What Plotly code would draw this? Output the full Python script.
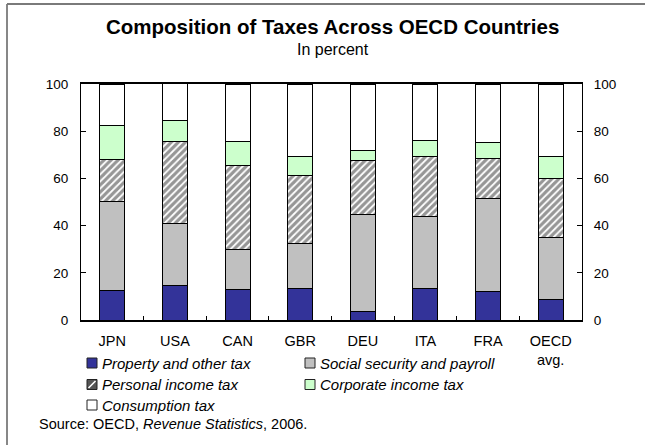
import plotly.graph_objects as go

# --- data -----------------------------------------------------------------
countries = ["JPN", "USA", "CAN", "GBR", "DEU", "ITA", "FRA", "OECD<br>avg."]
property_other = [12.4, 14.5, 12.9, 13.4, 3.8, 13.4, 11.9, 8.5]
social_security = [37.9, 26.5, 17.1, 19.1, 40.7, 30.4, 39.7, 26.5]
personal_income = [17.8, 34.8, 35.3, 28.8, 23.0, 25.6, 17.0, 25.0]
corporate_income = [14.4, 8.7, 10.4, 8.1, 4.4, 6.7, 6.5, 9.4]
consumption = [17.5, 15.6, 24.3, 30.6, 28.1, 23.9, 24.9, 30.6]

series_names = [
    "Property and other tax",
    "Social security and payroll",
    "Personal income tax",
    "Corporate income tax",
    "Consumption tax",
]
y_ticks = [0, 20, 40, 60, 80, 100]

# --- styling --------------------------------------------------------------
FONT = "Liberation Sans, Arial, sans-serif"
NAVY = "#333399"
GREY = "#c0c0c0"
GREEN = "#ccffcc"
WHITE = "#ffffff"
HATCH = "#2e2e2e"

W, H = 645, 445
PLOT_L, PLOT_R, PLOT_T, PLOT_B = 81, 582, 84, 320


def px_x(p):
    return (p - PLOT_L) / (PLOT_R - PLOT_L)


def px_y(p):
    return (PLOT_B - p) / (PLOT_B - PLOT_T)


series_values = [property_other, social_security, personal_income,
                 corporate_income, consumption]
series_fill = [
    dict(color=NAVY),
    dict(color=GREY),
    dict(color=WHITE, pattern=dict(shape="/", fgcolor=HATCH, bgcolor=WHITE,
                                   size=5, solidity=0.65)),
    dict(color=GREEN),
    dict(color=WHITE),
]

fig = go.Figure()
for name, vals, fill in zip(series_names, series_values, series_fill):
    fig.add_trace(go.Bar(
        x=countries, y=vals, name=name,
        marker=dict(**fill, line=dict(color="#000000", width=1)),
        showlegend=False,
    ))

axis_font = dict(family=FONT, size=13.5, color="#000000")

fig.update_layout(
    width=W, height=H,
    margin=dict(l=PLOT_L, r=W - PLOT_R, t=PLOT_T, b=H - PLOT_B, pad=0),
    paper_bgcolor="#ffffff", plot_bgcolor="#ffffff",
    barmode="stack", bargap=0.6,
    font=dict(family=FONT, color="#000000"),
    xaxis=dict(
        type="category", showgrid=False, zeroline=False,
        showline=True, linecolor="#000000", linewidth=1.5, mirror=True,
        ticks="inside", tickson="boundaries", ticklen=4, tickcolor="#000000",
        tickfont=dict(family=FONT, size=14.5, color="#000000"),
        ticklabelstandoff=7,
    ),
    yaxis=dict(
        range=[0, 100], tickvals=y_ticks, showgrid=False, zeroline=False,
        showline=True, linecolor="#000000", linewidth=1.2,
        ticks="inside", ticklen=5, tickcolor="#000000",
        tickfont=axis_font, ticklabelstandoff=9,
    ),
    yaxis2=dict(
        range=[0, 100], tickvals=y_ticks, overlaying="y", side="right",
        anchor="x", showgrid=False, zeroline=False,
        showline=True, linecolor="#000000", linewidth=1.2,
        ticks="inside", ticklen=5, tickcolor="#000000",
        tickfont=axis_font, ticklabelstandoff=8,
    ),
)

# invisible companion trace so the right-hand axis is drawn
fig.add_trace(go.Scatter(x=countries, y=consumption, yaxis="y2",
                         mode="markers", marker=dict(opacity=0),
                         showlegend=False, hoverinfo="skip"))

shapes = []
annotations = []

# outer frame of the figure (top and left edges)
frame_line = dict(color="#7a7a7a", width=1.8)
shapes.append(dict(type="line", xref="paper", yref="paper",
                   x0=px_x(7), x1=px_x(W + 5), y0=px_y(4), y1=px_y(4),
                   line=frame_line, layer="above"))
shapes.append(dict(type="line", xref="paper", yref="paper",
                   x0=px_x(7), x1=px_x(7), y0=px_y(4), y1=px_y(H + 5),
                   line=frame_line, layer="above"))

# title block
annotations.append(dict(text="<b>Composition of Taxes Across OECD Countries</b>",
                        xref="paper", yref="paper", x=px_x(332), y=px_y(27),
                        xanchor="center", yanchor="middle", showarrow=False,
                        font=dict(family=FONT, size=20.5, color="#000000")))
annotations.append(dict(text="In percent",
                        xref="paper", yref="paper", x=px_x(333), y=px_y(49.5),
                        xanchor="center", yanchor="middle", showarrow=False,
                        font=dict(family=FONT, size=16, color="#000000")))

# key below the chart
key_cols = [87, 305]
key_rows = [363, 384.5, 405]
key_pos = [(0, 0), (1, 0), (0, 1), (1, 1), (0, 2)]
SW = 10
for name, fill, (c, r) in zip(series_names, series_fill, key_pos):
    x0 = key_cols[c]
    yc = key_rows[r]
    if "pattern" in fill:
        shapes.append(dict(type="rect", xref="paper", yref="paper",
                           x0=px_x(x0), x1=px_x(x0 + SW),
                           y0=px_y(yc + SW / 2), y1=px_y(yc - SW / 2),
                           fillcolor="#555555", line=dict(color="#222222", width=1)))
        shapes.append(dict(type="line", xref="paper", yref="paper",
                           x0=px_x(x0 + 1.5), x1=px_x(x0 + SW - 1.5),
                           y0=px_y(yc + SW / 2 - 1.5), y1=px_y(yc - SW / 2 + 1.5),
                           line=dict(color="#ffffff", width=1.6)))
    else:
        shapes.append(dict(type="rect", xref="paper", yref="paper",
                           x0=px_x(x0), x1=px_x(x0 + SW),
                           y0=px_y(yc + SW / 2), y1=px_y(yc - SW / 2),
                           fillcolor=fill["color"], line=dict(color="#222222", width=1)))
    annotations.append(dict(text=f"<i>{name}</i>", xref="paper", yref="paper",
                            x=px_x(x0 + SW + 3), y=px_y(yc),
                            xanchor="left", yanchor="middle", showarrow=False,
                            font=dict(family=FONT, size=15, color="#000000")))

annotations.append(dict(text="Source: OECD, <i>Revenue Statistics</i>, 2006.",
                        xref="paper", yref="paper", x=px_x(37), y=px_y(424),
                        xanchor="left", yanchor="middle", showarrow=False,
                        font=dict(family=FONT, size=14.5, color="#000000")))

fig.update_layout(shapes=shapes, annotations=annotations)

fig.write_html("out.html")
